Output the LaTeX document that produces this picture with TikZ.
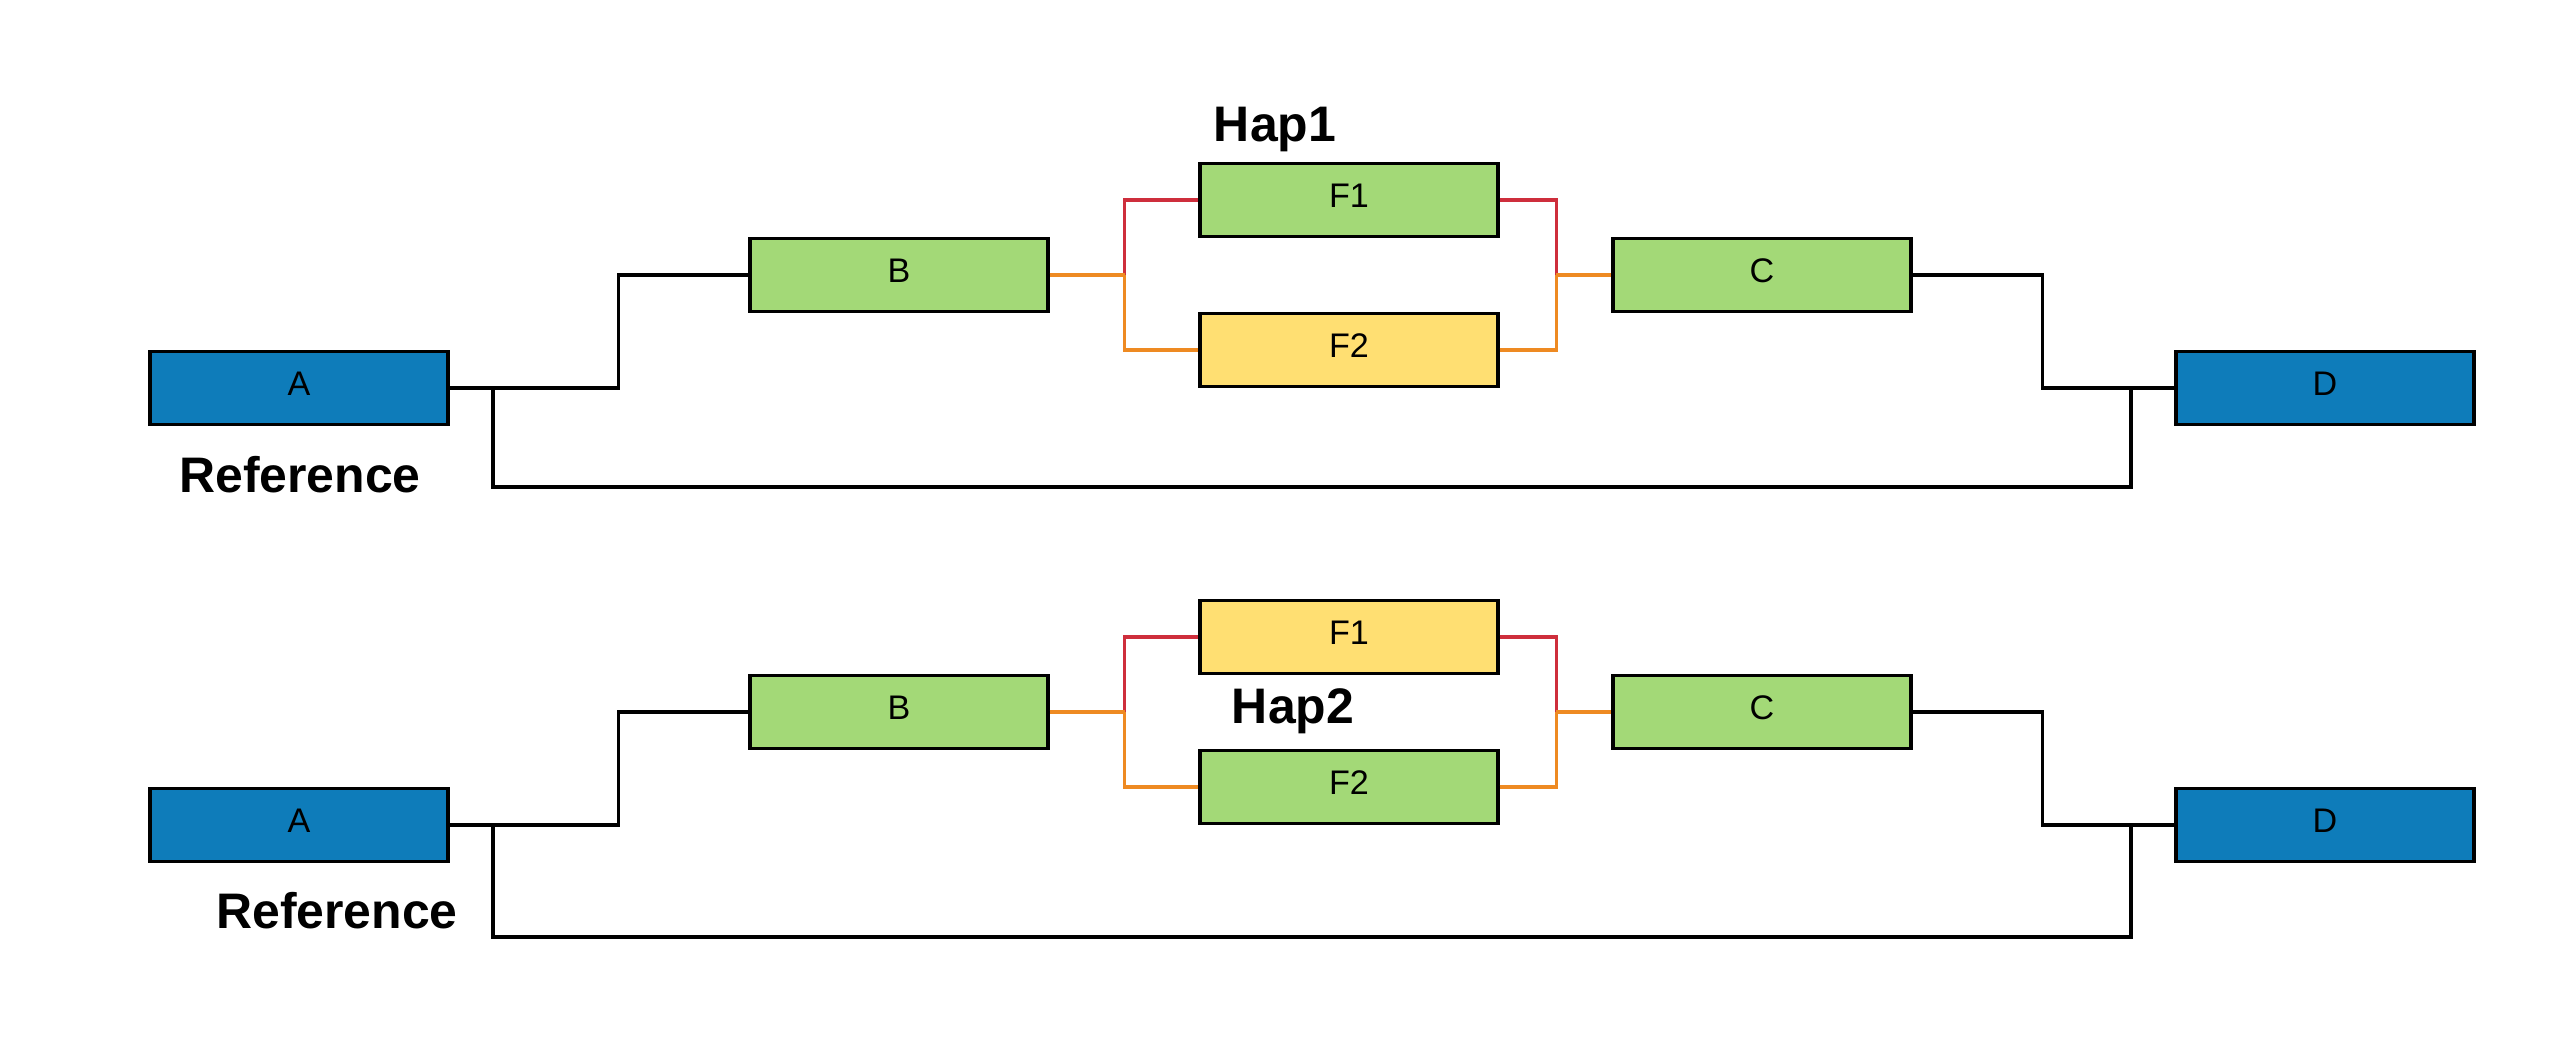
\documentclass[tikz,border=0pt]{standalone}
\usepackage{fontspec}
\setmainfont{Liberation Sans}
\usetikzlibrary{calc}
\definecolor{bblue}{HTML}{0E7CBA}
\definecolor{bgreen}{HTML}{A3D977}
\definecolor{byellow}{HTML}{FFDF72}
\definecolor{lred}{HTML}{CE2E3C}
\definecolor{lorange}{HTML}{EE8A22}
\tikzset{
  box/.style={draw=black, line width=1.1pt, minimum width=2.97cm, minimum height=0.73cm,
    inner sep=0pt, text height=0.24cm, text depth=0.1cm, font=\fontsize{9.7}{11}\selectfont},
  bluebox/.style={box, fill=bblue},
  greenbox/.style={box, fill=bgreen},
  yellowbox/.style={box, fill=byellow},
  blk/.style={draw=black, line width=1pt},
  redl/.style={draw=lred, line width=0.95pt},
  orgl/.style={draw=lorange, line width=0.95pt},
  title/.style={font=\fontsize{14.2}{16}\selectfont\bfseries, anchor=base, inner sep=0pt}
}
\begin{document}
\begin{tikzpicture}[x=0.01cm, y=-0.01cm]
\useasboundingbox (0,0) rectangle (2550,1050);
% ---------- top ----------
\node[bluebox]   (A1)  at (299,388)  {A};
\node[greenbox]  (B1)  at (899,275)  {B};
\node[greenbox]  (F11) at (1349,200) {F1};
\node[yellowbox] (F21) at (1349,350) {F2};
\node[greenbox]  (C1)  at (1762,275) {C};
\node[bluebox]   (D1)  at (2325,388) {D};
\node[title] (hap1) at (1275,141) {Hap1};
\node[title] (ref1) at (300,492) {Reference};
\coordinate (l1) at (493,388);
\coordinate (r1) at (2131,388);
\draw[blk] (A1.east) -- ++(169,0) |- (B1.west);
\draw[blk] (C1.east) -- ++(130,0) |- (D1.west);
\draw[blk] (l1) -- ++(0,99) -| (r1);
\coordinate (jb1) at ($(B1.east)+(75,0)$);
\coordinate (jc1) at ($(C1.west)+(-55,0)$);
\draw[redl] (jb1) |- (F11.west);
\draw[redl] (F11.east) -| (jc1);
\draw[orgl] (B1.east) -- (jb1);
\draw[orgl] (jb1) |- (F21.west);
\draw[orgl] (F21.east) -| (jc1);
\draw[orgl] (jc1) -- (C1.west);
% ---------- bottom ----------
\node[bluebox]   (A2)  at (299,825)  {A};
\node[greenbox]  (B2)  at (899,712)  {B};
\node[yellowbox] (F12) at (1349,637) {F1};
\node[greenbox]  (F22) at (1349,787) {F2};
\node[greenbox]  (C2)  at (1762,712) {C};
\node[bluebox]   (D2)  at (2325,825) {D};
\node[title] (hap2) at (1293,723) {Hap2};
\node[title] (ref2) at (337,928) {Reference};
\coordinate (l2) at (493,825);
\coordinate (r2) at (2131,825);
\draw[blk] (A2.east) -- ++(169,0) |- (B2.west);
\draw[blk] (C2.east) -- ++(130,0) |- (D2.west);
\draw[blk] (l2) -- ++(0,112) -| (r2);
\coordinate (jb2) at ($(B2.east)+(75,0)$);
\coordinate (jc2) at ($(C2.west)+(-55,0)$);
\draw[redl] (jb2) |- (F12.west);
\draw[redl] (F12.east) -| (jc2);
\draw[orgl] (B2.east) -- (jb2);
\draw[orgl] (jb2) |- (F22.west);
\draw[orgl] (F22.east) -| (jc2);
\draw[orgl] (jc2) -- (C2.west);
\end{tikzpicture}
\end{document}
